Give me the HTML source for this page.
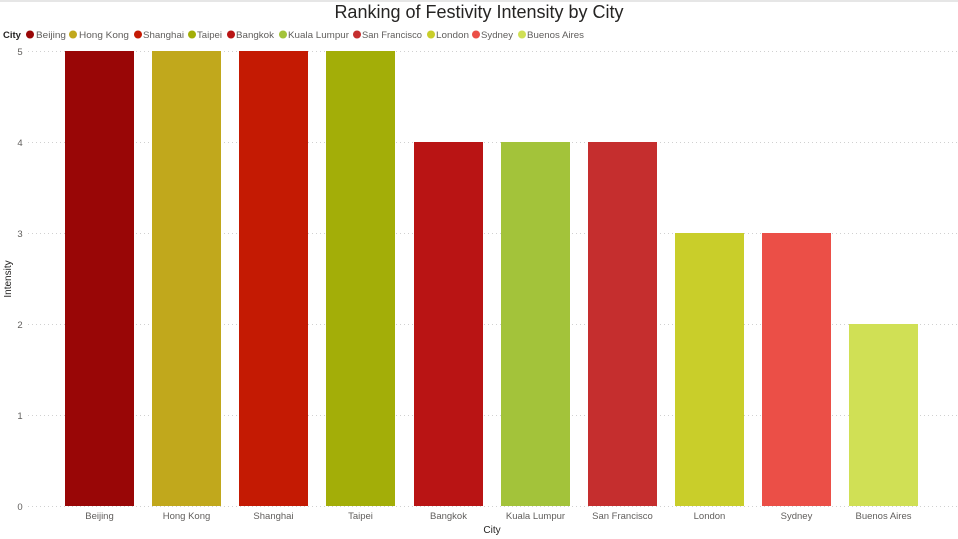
<!DOCTYPE html>
<html><head><meta charset="utf-8"><style>
html,body{margin:0;padding:0;background:#fff;}
svg{display:block;font-family:"Liberation Sans","DejaVu Sans",sans-serif;}
</style></head><body>
<svg width="958" height="539" viewBox="0 0 958 539">
<rect x="0" y="0" width="958" height="2" fill="#e6e6e6"/>
<text x="479" y="18" text-anchor="middle" font-size="18" fill="#252423">Ranking of Festivity Intensity by City</text>
<g font-size="9.5" fill="#605e5c">
<text x="3" y="38" font-weight="bold" fill="#252423">City</text>
<circle cx="30" cy="34.5" r="4" fill="#990606"/><text x="36" y="38" textLength="30" lengthAdjust="spacingAndGlyphs">Beijing</text>
<circle cx="73" cy="34.5" r="4" fill="#C1A81C"/><text x="79" y="38" textLength="50" lengthAdjust="spacingAndGlyphs">Hong Kong</text>
<circle cx="138" cy="34.5" r="4" fill="#C41A03"/><text x="143" y="38" textLength="41" lengthAdjust="spacingAndGlyphs">Shanghai</text>
<circle cx="192" cy="34.5" r="4" fill="#A3AE08"/><text x="197" y="38" textLength="25" lengthAdjust="spacingAndGlyphs">Taipei</text>
<circle cx="231" cy="34.5" r="4" fill="#B91414"/><text x="236" y="38" textLength="38" lengthAdjust="spacingAndGlyphs">Bangkok</text>
<circle cx="283" cy="34.5" r="4" fill="#A3C33A"/><text x="288" y="38" textLength="61" lengthAdjust="spacingAndGlyphs">Kuala Lumpur</text>
<circle cx="357" cy="34.5" r="4" fill="#C52E2E"/><text x="362" y="38" textLength="60" lengthAdjust="spacingAndGlyphs">San Francisco</text>
<circle cx="431" cy="34.5" r="4" fill="#C9CE2A"/><text x="436" y="38" textLength="33" lengthAdjust="spacingAndGlyphs">London</text>
<circle cx="476" cy="34.5" r="4" fill="#EB4F47"/><text x="481" y="38" textLength="32" lengthAdjust="spacingAndGlyphs">Sydney</text>
<circle cx="522" cy="34.5" r="4" fill="#D0E055"/><text x="527" y="38" textLength="57" lengthAdjust="spacingAndGlyphs">Buenos Aires</text>
</g>
<g stroke="#d0d0d0" stroke-dasharray="1,3" stroke-width="1">
<line x1="28" x2="958" y1="51.5" y2="51.5"/><line x1="28" x2="958" y1="142.5" y2="142.5"/>
<line x1="28" x2="958" y1="233.5" y2="233.5"/><line x1="28" x2="958" y1="324.5" y2="324.5"/>
<line x1="28" x2="958" y1="415.5" y2="415.5"/><line x1="28" x2="958" y1="506.5" y2="506.5"/>
</g>
<g font-size="9.5" fill="#605e5c" text-anchor="middle">
<text x="20" y="55">5</text><text x="20" y="146">4</text><text x="20" y="237">3</text>
<text x="20" y="328">2</text><text x="20" y="419">1</text><text x="20" y="510">0</text>
</g>
<text transform="translate(11,279) rotate(-90)" text-anchor="middle" font-size="10" fill="#252423">Intensity</text>
<g>
<rect x="65" y="51" width="69" height="455" fill="#990606"/>
<rect x="152" y="51" width="69" height="455" fill="#C1A81C"/>
<rect x="239" y="51" width="69" height="455" fill="#C41A03"/>
<rect x="326" y="51" width="69" height="455" fill="#A3AE08"/>
<rect x="414" y="142" width="69" height="364" fill="#B91414"/>
<rect x="501" y="142" width="69" height="364" fill="#A3C33A"/>
<rect x="588" y="142" width="69" height="364" fill="#C52E2E"/>
<rect x="675" y="233" width="69" height="273" fill="#C9CE2A"/>
<rect x="762" y="233" width="69" height="273" fill="#EB4F47"/>
<rect x="849" y="324" width="69" height="182" fill="#D0E055"/>
</g>
<g font-size="9.5" fill="#605e5c" text-anchor="middle">
<text x="99.5" y="519">Beijing</text><text x="186.5" y="519">Hong Kong</text>
<text x="273.5" y="519">Shanghai</text><text x="360.5" y="519">Taipei</text>
<text x="448.5" y="519">Bangkok</text><text x="535.5" y="519">Kuala Lumpur</text>
<text x="622.5" y="519">San Francisco</text><text x="709.5" y="519">London</text>
<text x="796.5" y="519">Sydney</text><text x="883.5" y="519">Buenos Aires</text>
</g>
<text x="492" y="533" text-anchor="middle" font-size="10" fill="#252423">City</text>
</svg>
</body></html>
